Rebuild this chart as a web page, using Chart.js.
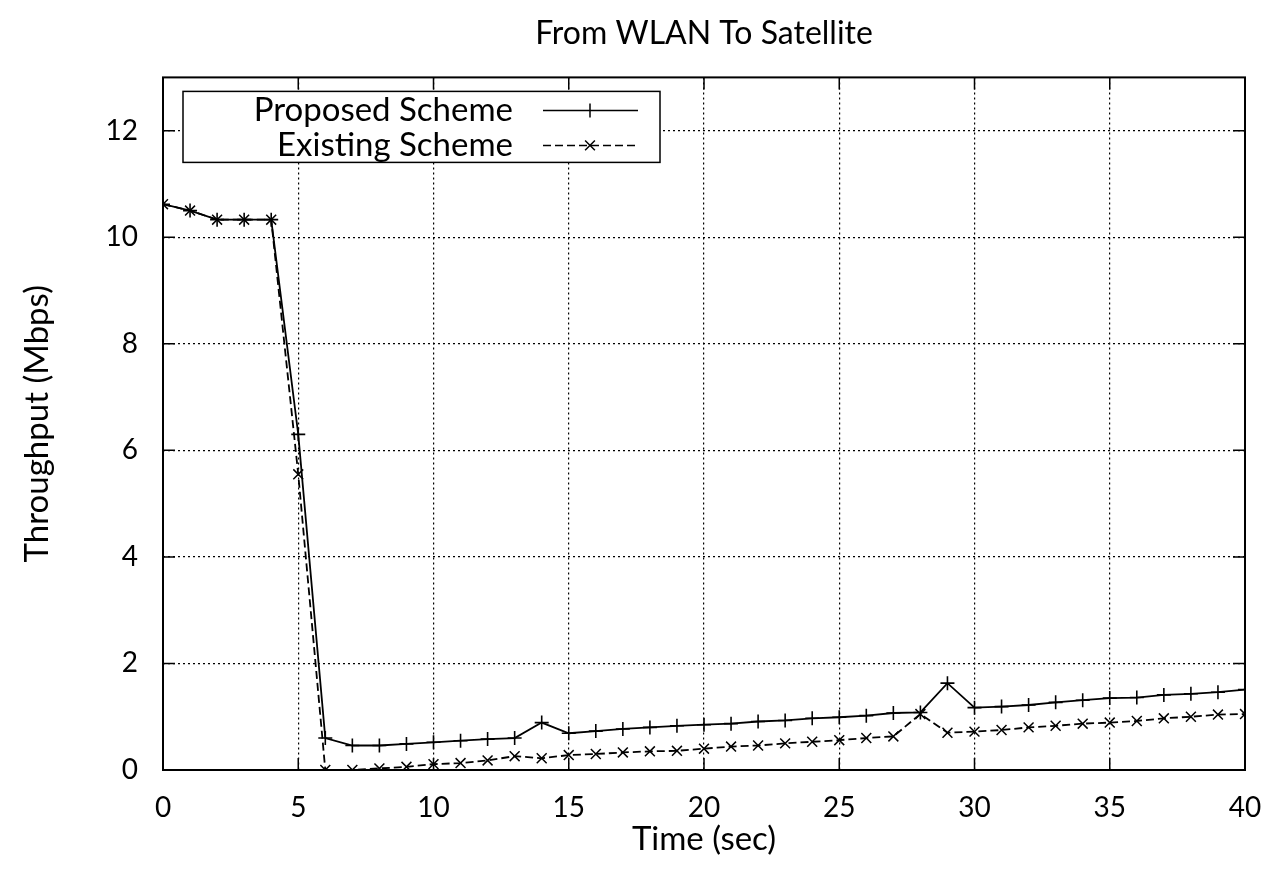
<!DOCTYPE html>
<html>
<head>
<meta charset="utf-8">
<script src="https://cdn.jsdelivr.net/npm/chart.js@4/dist/chart.umd.min.js"></script>
<style>
  html, body { margin: 0; padding: 0; background: #fff; }
  #wrap { width: 1274px; height: 881px; }
</style>
</head>
<body>
<div id="wrap"><canvas id="myChart" width="1274" height="881"></canvas></div>
<script>
// time axis (sec)
const timeSec = [0, 1, 2, 3, 4, 5, 6, 7, 8, 9, 10, 11, 12, 13, 14, 15, 16, 17, 18, 19, 20,
    21, 22, 23, 24, 25, 26, 27, 28, 29, 30, 31, 32, 33, 34, 35, 36, 37, 38, 39, 40]

// throughput (Mbps)
const proposed = [10.62, 10.5, 10.33, 10.33, 10.33, 6.3, 0.6, 0.46, 0.46, 0.49, 0.52,
    0.55, 0.58, 0.6, 0.89, 0.69, 0.73, 0.77, 0.8, 0.83, 0.85,
    0.87, 0.91, 0.93, 0.97, 0.99, 1.02, 1.07, 1.08, 1.63, 1.17,
    1.19, 1.22, 1.27, 1.31, 1.35, 1.36, 1.41, 1.43, 1.46, 1.51]
const existing = [10.62, 10.5, 10.33, 10.33, 10.33, 5.55, 0.0, 0.0, 0.03, 0.06, 0.11,
    0.13, 0.18, 0.26, 0.22, 0.28, 0.3, 0.33, 0.35, 0.36, 0.4,
    0.44, 0.46, 0.5, 0.53, 0.56, 0.6, 0.63, 1.05, 0.7, 0.72,
    0.75, 0.8, 0.83, 0.87, 0.89, 0.92, 0.97, 1.0, 1.04, 1.05]

const seriesLabels = ["Proposed Scheme", "Existing Scheme"]
const xTicks = [0, 5, 10, 15, 20, 25, 30, 35, 40]
const yTicks = [0, 2, 4, 6, 8, 10, 12]

const FONT = "Lato"

function toPoints(ys) {
    return timeSec.map(function (t, i) { return { x: t, y: ys[i] } })
}

// gnuplot-like inward tick marks on all four sides
const innerTicks = {
    id: 'innerTicks',
    afterDatasetsDraw(chart) {
        const ctx = chart.ctx
        const a = chart.chartArea
        const len = 12
        ctx.save()
        ctx.strokeStyle = '#000'
        ctx.lineWidth = 1.5
        ctx.beginPath()
        xTicks.forEach(function (v) {
            const px = chart.scales.x.getPixelForValue(v)
            ctx.moveTo(px, a.bottom); ctx.lineTo(px, a.bottom - len)
            ctx.moveTo(px, a.top); ctx.lineTo(px, a.top + len)
        })
        yTicks.forEach(function (v) {
            const py = chart.scales.y.getPixelForValue(v)
            ctx.moveTo(a.left, py); ctx.lineTo(a.left + len, py)
            ctx.moveTo(a.right, py); ctx.lineTo(a.right - len, py)
        })
        ctx.stroke()
        ctx.lineWidth = 2
        ctx.strokeRect(a.left, a.top, a.right - a.left, a.bottom - a.top)
        ctx.restore()
    }
}

// boxed legend: label on the left, line sample on the right
const boxLegend = {
    id: 'boxLegend',
    afterDraw(chart) {
        const ctx = chart.ctx
        const a = chart.chartArea
        const bx = a.left + 20, by = a.top + 14, bw = 477, bh = 71
        ctx.save()
        ctx.fillStyle = '#fff'
        ctx.fillRect(bx, by, bw, bh)
        ctx.strokeStyle = '#000'
        ctx.lineWidth = 1.5
        ctx.strokeRect(bx, by, bw, bh)
        ctx.font = '33px ' + FONT
        ctx.textAlign = 'right'
        ctx.textBaseline = 'middle'
        chart.data.datasets.forEach(function (ds, i) {
            const cy = by + 19 + i * 35
            ctx.fillStyle = '#000'
            ctx.fillText(ds.label, bx + 330, cy)
            ctx.strokeStyle = '#000'
            ctx.lineWidth = 1.5
            ctx.setLineDash(ds.borderDash || [])
            ctx.beginPath()
            ctx.moveTo(bx + 360, cy); ctx.lineTo(bx + 455, cy)
            ctx.stroke()
            ctx.setLineDash([])
            const mx = bx + 407, r = 7
            ctx.beginPath()
            if (ds.pointStyle === 'cross') {
                ctx.moveTo(mx, cy - r); ctx.lineTo(mx, cy + r)
            } else {
                ctx.moveTo(mx - r * 0.7, cy - r * 0.7); ctx.lineTo(mx + r * 0.7, cy + r * 0.7)
                ctx.moveTo(mx - r * 0.7, cy + r * 0.7); ctx.lineTo(mx + r * 0.7, cy - r * 0.7)
            }
            ctx.stroke()
        })
        ctx.restore()
    }
}

var ctxL = document.getElementById("myChart").getContext('2d')
var myLineChart = new Chart(ctxL, {
    type: 'line',
    data: {
        datasets: [{
            label: seriesLabels[0],
            data: toPoints(proposed),
            borderColor: '#000',
            backgroundColor: '#000',
            borderWidth: 1.8,
            pointStyle: 'cross',
            pointRadius: 7,
            pointBorderWidth: 1.6,
            pointBorderColor: '#000',
            tension: 0,
            fill: false
        },
        {
            label: seriesLabels[1],
            data: toPoints(existing),
            borderColor: '#000',
            backgroundColor: '#000',
            borderWidth: 1.8,
            borderDash: [8, 4],
            pointStyle: 'crossRot',
            pointRadius: 7,
            pointBorderWidth: 1.5,
            pointBorderColor: '#000',
            tension: 0,
            fill: false
        }]
    },
    options: {
        responsive: false,
        animation: false,
        layout: { padding: { left: 0, right: 29, top: 0, bottom: 0 } },
        plugins: {
            legend: { display: false },
            tooltip: { enabled: false },
            title: {
                display: true,
                fullSize: false,
                text: 'From WLAN To Satellite',
                color: '#000',
                font: { family: FONT, size: 32, weight: 'normal' },
                padding: { top: 14, bottom: 25 }
            }
        },
        scales: {
            x: {
                type: 'linear',
                min: 0,
                max: 40,
                afterBuildTicks: function (s) { s.ticks = xTicks.map(function (v) { return { value: v } }) },
                afterFit: function (s) { s.height = 111; s.paddingLeft = 0; s.paddingRight = 0 },
                border: { display: false, dash: [2, 3] },
                grid: { color: '#000', lineWidth: 1.2, drawTicks: false },
                ticks: { color: '#000', padding: 21, maxRotation: 0, font: { family: FONT, size: 28 } },
                title: {
                    display: true,
                    text: 'Time (sec)',
                    color: '#000',
                    font: { family: FONT, size: 33 },
                    padding: { top: 0, bottom: 22 }
                }
            },
            y: {
                min: 0,
                max: 13,
                afterBuildTicks: function (s) { s.ticks = yTicks.map(function (v) { return { value: v } }) },
                afterFit: function (s) { s.width = 163; s.paddingTop = 0; s.paddingBottom = 0 },
                border: { display: false, dash: [2, 3] },
                grid: { color: '#000', lineWidth: 1.2, drawTicks: false },
                ticks: { color: '#000', padding: 25, font: { family: FONT, size: 28 } },
                title: {
                    display: true,
                    text: 'Throughput (Mbps)',
                    color: '#000',
                    font: { family: FONT, size: 33 },
                    padding: { top: 18, bottom: 0 }
                }
            }
        }
    },
    plugins: [innerTicks, boxLegend]
})
</script>
</body>
</html>
